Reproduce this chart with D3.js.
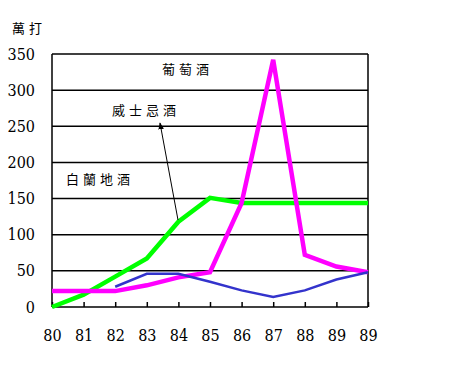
<!DOCTYPE html>
<html><head><meta charset="utf-8">
<script src="https://cdn.jsdelivr.net/npm/d3@7"></script>
<style>
html,body{margin:0;padding:0;background:#fff;}
svg{display:block;}
</style></head>
<body>
<svg id="c" width="452" height="373"></svg>
<script>
const categories = ["80","81","82","83","84","85","86","87","88","89","89"];
const yTicks = [0,50,100,150,200,250,300,350];
const wine    = [22,22,22,30,41,48,144,342,72,56,48];     // 葡萄酒
const whisky  = [0,17,42,67,118,151,144,144,144,144,144]; // 威士忌酒
const brandy  = [null,null,28,46,46,35,23,14,23,38,48];   // 白蘭地酒
const unitLabel = "萬打";
const seriesNames = ["葡萄酒","威士忌酒","白蘭地酒"];

const numFont = "'DejaVu Serif Condensed', 'Liberation Serif', serif";
const cjkFont = "'Noto Sans CJK TC', 'Noto Sans CJK SC', sans-serif";

const svg = d3.select("#c");
const L = 52, R = 368, T = 54, B = 307;
const x = d3.scalePoint().domain(d3.range(categories.length)).range([L, R]);
const y = d3.scaleLinear().domain([0, 350]).range([B, T]);

// gridlines
svg.append("g").selectAll("line").data(yTicks).join("line")
  .attr("x1", L).attr("x2", R)
  .attr("y1", d => y(d)).attr("y2", d => y(d))
  .attr("stroke", "#000").attr("stroke-width", 1.5);
// frame verticals
svg.append("line").attr("x1", L).attr("x2", L).attr("y1", T).attr("y2", B).attr("stroke","#000").attr("stroke-width",1.5);
svg.append("line").attr("x1", R).attr("x2", R).attr("y1", T).attr("y2", B).attr("stroke","#000").attr("stroke-width",1.5);

// y axis labels
const yAxis = d3.axisLeft(y).tickValues(yTicks).tickSize(0).tickPadding(17);
const gy = svg.append("g").attr("transform", `translate(${L},0)`).call(yAxis);
gy.select(".domain").remove();
gy.selectAll("text").style("font-family", numFont).style("font-size", "16px").attr("fill","#000");

// x axis: inward ticks + labels
const xAxis = d3.axisTop(x).tickSize(5).tickFormat(i => categories[i]);
const gx = svg.append("g").attr("transform", `translate(0,${B})`).call(xAxis);
gx.select(".domain").remove();
gx.selectAll("line").attr("stroke","#000").attr("stroke-width",1.5);
gx.selectAll("text").attr("y", 28).attr("dy", "0.35em")
  .style("font-family", numFont).style("font-size", "16px").attr("fill","#000");

// lines
const line = d3.line().defined(d => d != null).x((d,i) => x(i)).y(d => y(d));
svg.append("path").datum(whisky).attr("d", line).attr("fill","none")
  .attr("stroke","#00ff00").attr("stroke-width",4.5);
svg.append("path").datum(wine).attr("d", line).attr("fill","none")
  .attr("stroke","#ff00ff").attr("stroke-width",4.5);
svg.append("path").datum(brandy).attr("d", line).attr("fill","none")
  .attr("stroke","#3333cc").attr("stroke-width",2.5);

// annotations
function cjk(t, xx, yy, ls) {
  svg.append("text").attr("x", xx).attr("y", yy).attr("dy","0.35em")
    .style("font-family", cjkFont).style("font-size", "13px")
    .attr("letter-spacing", ls).attr("fill","#000").text(t);
}
cjk(unitLabel, 12, 28, 4);
cjk(seriesNames[0], 162, 69, 4);
cjk(seriesNames[1], 112, 110, 4);
cjk(seriesNames[2], 66, 179, 4);

// arrow
svg.append("defs").append("marker").attr("id","ah")
  .attr("viewBox","0 0 10 10").attr("refX",9).attr("refY",5)
  .attr("markerWidth",7).attr("markerHeight",7).attr("orient","auto")
  .append("path").attr("d","M0,1 L10,5 L0,9 Z").attr("fill","#000");
svg.append("line").attr("x1",178).attr("y1",220).attr("x2",160).attr("y2",123)
  .attr("stroke","#000").attr("stroke-width",1).attr("marker-end","url(#ah)");
</script>
</body></html>
